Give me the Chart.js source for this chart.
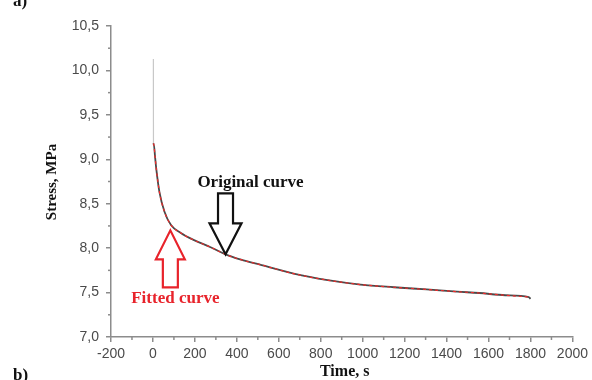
<!DOCTYPE html>
<html>
<head>
<meta charset="utf-8">
<title>Stress relaxation</title>
<script src="https://cdn.jsdelivr.net/npm/chart.js@4.4.1/dist/chart.umd.min.js"></script>
<style>
  body { margin: 0; background: #fff; }
  #wrap { width: 592px; height: 380px; position: relative; }
</style>
</head>
<body>
<div id="wrap"><canvas id="stressChart"></canvas></div>
<script>
// measured relaxation curve (time in s, stress in MPa)
const originalTime = [2, 2.5, 4.5, 10, 15.5, 31, 55, 86, 133, 196, 275, 346, 420, 518, 676, 833, 990, 1148, 1305, 1450, 1556, 1680, 1792, 1800];
const originalStress = [10.13, 9.18, 9.16, 9.03, 8.90, 8.63, 8.41, 8.26, 8.17, 8.09, 8.01, 7.93, 7.87, 7.81, 7.71, 7.64, 7.59, 7.56, 7.535, 7.51, 7.495, 7.47, 7.45, 7.43];

// model fit over the same range
const fittedTime = [2.5, 4.5, 10, 15.5, 31, 55, 86, 133, 196, 275, 346, 420, 518, 676, 833, 990, 1148, 1305, 1450, 1556, 1680, 1792];
const fittedStress = [9.18, 9.16, 9.03, 8.90, 8.63, 8.41, 8.26, 8.17, 8.09, 8.01, 7.93, 7.87, 7.81, 7.71, 7.64, 7.59, 7.56, 7.535, 7.51, 7.495, 7.47, 7.45];

const xTicks = [-200, 0, 200, 400, 600, 800, 1000, 1200, 1400, 1600, 1800, 2000];
const yTicks = [7.0, 7.5, 8.0, 8.5, 9.0, 9.5, 10.0, 10.5];

// where the two callout arrows point
const originalArrowAt = { t: 346, s: 7.93 };
const fittedArrowAt = { t: 83, s: 8.20 };

const toPoints = (xs, ys) => xs.map((x, i) => ({ x: x, y: ys[i] }));

const axisGray = '#8c8c8c';
const labelFont = { family: "'Liberation Sans', Arial, sans-serif", size: 14 };

// short unlabelled ticks half way between the major ones
const minorTicks = {
    id: 'minorTicks',
    afterDraw(chart) {
        const ctx = chart.ctx;
        const xs = chart.scales.x, ys = chart.scales.y;
        ctx.save();
        ctx.strokeStyle = axisGray;
        ctx.lineWidth = 1.5;
        for (let i = 0; i < xTicks.length - 1; i++) {
            const px = xs.getPixelForValue((xTicks[i] + xTicks[i + 1]) / 2);
            ctx.beginPath();
            ctx.moveTo(px, ys.bottom);
            ctx.lineTo(px, ys.bottom + 3);
            ctx.stroke();
        }
        for (let i = 0; i < yTicks.length - 1; i++) {
            const py = ys.getPixelForValue((yTicks[i] + yTicks[i + 1]) / 2);
            ctx.beginPath();
            ctx.moveTo(xs.left, py);
            ctx.lineTo(xs.left - 3, py);
            ctx.stroke();
        }
        ctx.restore();
    }
};

function drawArrow(ctx, x, y, dir, headHalf, headLen, shaftHalf, shaftLen) {
    // dir = 1 points down, -1 points up; (x, y) is the tip
    ctx.beginPath();
    ctx.moveTo(x, y);
    ctx.lineTo(x - headHalf, y - dir * headLen);
    ctx.lineTo(x - shaftHalf, y - dir * headLen);
    ctx.lineTo(x - shaftHalf, y - dir * (headLen + shaftLen));
    ctx.lineTo(x + shaftHalf, y - dir * (headLen + shaftLen));
    ctx.lineTo(x + shaftHalf, y - dir * headLen);
    ctx.lineTo(x + headHalf, y - dir * headLen);
    ctx.closePath();
    ctx.stroke();
}

// callouts, axis titles and panel letters
const annotations = {
    id: 'annotations',
    afterDraw(chart) {
        const ctx = chart.ctx;
        const xs = chart.scales.x;
        const ys = chart.scales.y;
        const area = chart.chartArea;
        const serif = "'Liberation Serif', 'Times New Roman', serif";
        ctx.save();
        ctx.lineJoin = 'miter';
        ctx.lineWidth = 2.2;

        const ox = xs.getPixelForValue(originalArrowAt.t);
        const oy = ys.getPixelForValue(originalArrowAt.s);
        ctx.strokeStyle = '#111';
        drawArrow(ctx, ox, oy, 1, 16, 31, 7.5, 30);
        ctx.fillStyle = '#111';
        ctx.font = 'bold 17px ' + serif;
        ctx.textAlign = 'center';
        ctx.textBaseline = 'middle';
        ctx.fillText('Original curve', ox + 25, oy - 72);

        const fx = xs.getPixelForValue(fittedArrowAt.t);
        const fy = ys.getPixelForValue(fittedArrowAt.s);
        ctx.strokeStyle = '#e8232b';
        drawArrow(ctx, fx, fy, -1, 14.5, 29, 7.5, 28);
        ctx.fillStyle = '#e8232b';
        ctx.font = 'bold 17px ' + serif;
        ctx.fillText('Fitted curve', fx + 5, fy + 68);

        // axis titles
        ctx.fillStyle = '#111';
        ctx.font = 'bold 16px ' + serif;
        ctx.fillText('Time, s', (area.left + area.right) / 2 + 3, 372);
        ctx.save();
        ctx.translate(52, 182);
        ctx.rotate(-Math.PI / 2);
        ctx.font = 'bold 15px ' + serif;
        ctx.fillText('Stress, MPa', 0, 0);
        ctx.restore();

        // panel letters
        ctx.font = 'bold 17px ' + serif;
        ctx.textAlign = 'left';
        ctx.textBaseline = 'alphabetic';
        ctx.fillText('a)', 13, 6);
        ctx.fillText('b)', 13, 380);
        ctx.restore();
    }
};

const ctx = document.getElementById('stressChart').getContext('2d');
const chart = new Chart(ctx, {
    type: 'scatter',
    data: {
        datasets: [{
            label: 'Fitted curve',
            data: toPoints(fittedTime, fittedStress),
            showLine: true,
            borderColor: '#ef2b2b',
            borderWidth: 1.2,
            borderDash: [3, 3],
            pointRadius: 0,
            cubicInterpolationMode: 'monotone',
            order: 0
        }, {
            label: 'Original curve',
            data: toPoints(originalTime, originalStress),
            showLine: true,
            borderColor: '#4a4a4a',
            borderWidth: 1.8,
            pointRadius: 0,
            cubicInterpolationMode: 'monotone',
            segment: {
                // the loading spike is drawn thinner and lighter
                borderColor: c => c.p0DataIndex === 0 ? '#c8c8c8' : undefined,
                borderWidth: c => c.p0DataIndex === 0 ? 1.2 : undefined
            },
            order: 1
        }]
    },
    options: {
        responsive: true,
        maintainAspectRatio: false,
        animation: false,
        layout: { padding: { top: 26, right: 15, left: 0, bottom: 0 } },
        plugins: {
            legend: { display: false },
            tooltip: { enabled: false }
        },
        scales: {
            x: {
                type: 'linear',
                min: xTicks[0],
                max: xTicks[xTicks.length - 1],
                afterBuildTicks: scale => { scale.ticks = xTicks.map(v => ({ value: v })); },
                afterFit: scale => { scale.height = 43; },
                ticks: {
                    color: '#4a4a4a',
                    font: labelFont,
                    padding: 4,
                    maxRotation: 0,
                    autoSkip: false,
                    callback: v => String(v)
                },
                grid: { drawOnChartArea: false, drawTicks: true, tickLength: 5, color: axisGray, lineWidth: 1.5 },
                border: { color: axisGray, width: 1.5 }
            },
            y: {
                type: 'linear',
                min: yTicks[0],
                max: yTicks[yTicks.length - 1],
                afterBuildTicks: scale => { scale.ticks = yTicks.map(v => ({ value: v })); },
                afterFit: scale => { scale.width = 111; },
                ticks: {
                    color: '#4a4a4a',
                    font: labelFont,
                    padding: 7,
                    callback: v => v.toFixed(1).replace('.', ',')
                },
                grid: { drawOnChartArea: false, drawTicks: true, tickLength: 5, color: axisGray, lineWidth: 1.5 },
                border: { color: axisGray, width: 1.5 }
            }
        }
    },
    plugins: [minorTicks, annotations]
});
</script>
</body>
</html>
